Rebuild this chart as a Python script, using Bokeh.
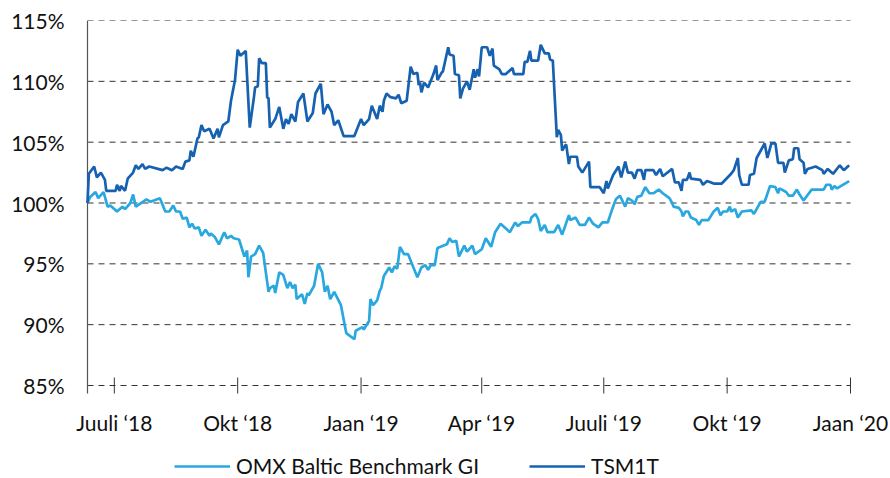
import math
import pandas as pd
from bokeh.plotting import figure
from bokeh.models import Range1d, FixedTicker, Legend, LegendItem, PrintfTickFormatter
from bokeh.core.properties import value
from bokeh.embed import file_html
from bokeh.resources import INLINE

# ---------------- data ----------------
tsm_dates = [
    "2018-06-11", "2018-06-12", "2018-06-16", "2018-06-18", "2018-06-21", "2018-06-24", "2018-06-25",
    "2018-07-02", "2018-07-03", "2018-07-05", "2018-07-06", "2018-07-09", "2018-07-11", "2018-07-15", "2018-07-17", "2018-07-19", "2018-07-22", "2018-07-24", "2018-07-27",
    "2018-08-06", "2018-08-09", "2018-08-13", "2018-08-16", "2018-08-21", "2018-08-23", "2018-08-26", "2018-08-27", "2018-08-29",
    "2018-09-01", "2018-09-02", "2018-09-04", "2018-09-06", "2018-09-10", "2018-09-13", "2018-09-16", "2018-09-17", "2018-09-20", "2018-09-24", "2018-09-26", "2018-09-29",
    "2018-10-01", "2018-10-03", "2018-10-07", "2018-10-10", "2018-10-13", "2018-10-14", "2018-10-16", "2018-10-17", "2018-10-19", "2018-10-22", "2018-10-23", "2018-10-24", "2018-10-25", "2018-10-29",
    "2018-11-01", "2018-11-04", "2018-11-06", "2018-11-08", "2018-11-10", "2018-11-13", "2018-11-15", "2018-11-19", "2018-11-22", "2018-11-26", "2018-11-28",
    "2018-12-02", "2018-12-04", "2018-12-07", "2018-12-10", "2018-12-12", "2018-12-15", "2018-12-19", "2018-12-27",
    "2019-01-01", "2019-01-03", "2019-01-07", "2019-01-09", "2019-01-13", "2019-01-15", "2019-01-17", "2019-01-18", "2019-01-20", "2019-01-23", "2019-01-27", "2019-01-29", "2019-01-31",
    "2019-02-04", "2019-02-07", "2019-02-09", "2019-02-12", "2019-02-13", "2019-02-14", "2019-02-15", "2019-02-17", "2019-02-20", "2019-02-24", "2019-02-26", "2019-02-27",
    "2019-03-02", "2019-03-03", "2019-03-04", "2019-03-07", "2019-03-08", "2019-03-11", "2019-03-12", "2019-03-15", "2019-03-16", "2019-03-18", "2019-03-21", "2019-03-23", "2019-03-26", "2019-03-27", "2019-03-29", "2019-03-30",
    "2019-04-01", "2019-04-05", "2019-04-07", "2019-04-09", "2019-04-10", "2019-04-14", "2019-04-16", "2019-04-19", "2019-04-24", "2019-04-25",
    "2019-05-02", "2019-05-03", "2019-05-05", "2019-05-07", "2019-05-08", "2019-05-13", "2019-05-15", "2019-05-18", "2019-05-21", "2019-05-22", "2019-05-24", "2019-05-27", "2019-05-28", "2019-05-30", "2019-05-31",
    "2019-06-02", "2019-06-03", "2019-06-05", "2019-06-06", "2019-06-11", "2019-06-12", "2019-06-15", "2019-06-20", "2019-06-21", "2019-06-28",
    "2019-07-01", "2019-07-03", "2019-07-04", "2019-07-08", "2019-07-12", "2019-07-14", "2019-07-17", "2019-07-19", "2019-07-22", "2019-07-24", "2019-07-26", "2019-07-29", "2019-07-31",
    "2019-08-01", "2019-08-07", "2019-08-09", "2019-08-12", "2019-08-14", "2019-08-21", "2019-08-23", "2019-08-26", "2019-08-28", "2019-08-29",
    "2019-09-01", "2019-09-03", "2019-09-04", "2019-09-11", "2019-09-13", "2019-09-16", "2019-09-21", "2019-09-27",
    "2019-10-04", "2019-10-06", "2019-10-09", "2019-10-10", "2019-10-12", "2019-10-17", "2019-10-18", "2019-10-21", "2019-10-23", "2019-10-29", "2019-10-31",
    "2019-11-03", "2019-11-06", "2019-11-08", "2019-11-12", "2019-11-13", "2019-11-16", "2019-11-19", "2019-11-20", "2019-11-23", "2019-11-24", "2019-11-27", "2019-11-28", "2019-11-30",
    "2019-12-06", "2019-12-11", "2019-12-12", "2019-12-15", "2019-12-19", "2019-12-24", "2019-12-27", "2019-12-31",
]
tsm_values = [
    100.0, 102.4, 103.0, 102.1, 102.5, 101.9, 101.0,
    101.0, 101.5, 101.0, 101.4, 101.0, 102.0, 102.5, 103.1, 102.8, 103.2, 102.8, 103.0,
    102.7, 102.9, 102.7, 103.0, 102.8, 103.4, 103.5, 104.3, 103.8,
    105.3, 105.4, 106.4, 105.9, 106.1, 105.3, 106.1, 105.4, 106.4, 106.7, 108.4, 110.1,
    112.6, 112.1, 112.5, 106.2, 108.6, 109.5, 109.6, 111.9, 111.5, 111.5, 108.7, 108.6, 106.2, 106.9,
    107.9, 106.1, 106.9, 106.5, 107.3, 106.7, 108.3, 109.0, 106.7, 107.4, 109.0,
    109.8, 107.3, 108.1, 107.5, 106.4, 106.8, 105.5, 105.5,
    106.9, 106.4, 106.9, 108.0, 106.9, 108.0, 107.5, 108.4, 109.0, 108.7, 108.6, 108.9, 108.2,
    108.4, 111.2, 110.6, 110.7, 109.7, 109.9, 109.1, 109.9, 109.5, 110.6, 111.3, 110.1,
    110.7, 110.8, 111.3, 112.8, 112.2, 112.1, 110.6, 110.5, 108.6, 109.4, 110.0, 109.3, 111.0, 110.3, 111.0, 110.4,
    112.8, 112.8, 112.1, 112.7, 111.3, 111.0, 110.6, 110.6, 111.1, 110.6,
    110.6, 111.6, 111.6, 112.5, 111.7, 111.7, 113.0, 112.3, 112.3, 111.8, 111.7, 105.4, 106.0, 105.6, 104.3,
    104.7, 104.8, 103.2, 103.8, 103.8, 103.0, 102.5, 103.4, 101.3, 101.3,
    100.8, 101.8, 101.2, 102.3, 103.0, 102.1, 103.4, 102.5, 102.5, 102.0, 102.7, 102.7, 101.9,
    102.7, 102.7, 102.3, 102.8, 102.2, 102.8, 101.7, 101.7, 101.0, 101.9,
    101.9, 102.5, 102.0, 101.9, 101.5, 101.8, 101.6, 101.6,
    102.4, 102.7, 103.7, 102.3, 101.5, 101.5, 102.3, 102.4, 103.7, 104.9, 103.7,
    104.9, 104.9, 103.3, 103.3, 102.5, 103.5, 103.6, 104.5, 104.5, 103.6, 103.3, 102.4, 102.8,
    103.0, 102.7, 102.4, 102.8, 102.4, 103.1, 102.7, 103.1,
]

omx_dates = [
    "2018-06-11", "2018-06-13", "2018-06-17", "2018-06-19", "2018-06-23", "2018-06-26", "2018-06-28",
    "2018-07-03", "2018-07-07", "2018-07-09", "2018-07-13", "2018-07-15", "2018-07-17", "2018-07-25", "2018-07-28",
    "2018-08-04", "2018-08-08", "2018-08-11", "2018-08-14", "2018-08-16", "2018-08-19", "2018-08-21", "2018-08-24", "2018-08-26", "2018-08-28", "2018-08-30",
    "2018-09-02", "2018-09-04", "2018-09-07", "2018-09-10", "2018-09-11", "2018-09-14", "2018-09-17", "2018-09-21", "2018-09-23", "2018-09-26", "2018-09-28",
    "2018-10-02", "2018-10-06", "2018-10-08", "2018-10-09", "2018-10-11", "2018-10-14", "2018-10-17", "2018-10-20", "2018-10-24", "2018-10-25", "2018-10-28", "2018-10-29",
    "2018-11-01", "2018-11-04", "2018-11-07", "2018-11-09", "2018-11-11", "2018-11-13", "2018-11-14", "2018-11-18", "2018-11-20", "2018-11-22", "2018-11-23", "2018-11-27", "2018-11-30",
    "2018-12-03", "2018-12-05", "2018-12-07", "2018-12-09", "2018-12-12", "2018-12-17", "2018-12-21", "2018-12-27", "2018-12-28",
    "2019-01-02", "2019-01-03", "2019-01-07", "2019-01-08", "2019-01-10", "2019-01-13", "2019-01-15", "2019-01-16", "2019-01-18", "2019-01-22", "2019-01-24", "2019-01-26", "2019-01-28", "2019-01-30",
    "2019-02-02", "2019-02-05", "2019-02-12", "2019-02-15", "2019-02-18", "2019-02-20", "2019-02-22", "2019-02-25", "2019-02-27",
    "2019-03-06", "2019-03-08", "2019-03-10", "2019-03-13", "2019-03-15", "2019-03-19", "2019-03-21", "2019-03-25", "2019-03-27",
    "2019-04-01", "2019-04-04", "2019-04-08", "2019-04-11", "2019-04-15", "2019-04-19", "2019-04-22", "2019-04-26", "2019-04-28",
    "2019-05-01", "2019-05-07", "2019-05-08", "2019-05-11", "2019-05-13", "2019-05-15", "2019-05-18", "2019-05-20", "2019-05-25", "2019-05-28", "2019-05-31",
    "2019-06-05", "2019-06-06", "2019-06-10", "2019-06-13", "2019-06-17", "2019-06-20", "2019-06-23", "2019-06-27", "2019-06-30",
    "2019-07-04", "2019-07-07", "2019-07-10", "2019-07-13", "2019-07-17", "2019-07-19", "2019-07-22", "2019-07-24", "2019-07-26", "2019-07-29",
    "2019-08-01", "2019-08-04", "2019-08-07", "2019-08-11", "2019-08-14", "2019-08-19", "2019-08-21", "2019-08-22", "2019-08-26", "2019-08-28", "2019-08-29", "2019-08-31",
    "2019-09-02", "2019-09-04", "2019-09-08", "2019-09-10", "2019-09-12", "2019-09-17", "2019-09-21", "2019-09-24", "2019-09-26", "2019-09-28",
    "2019-10-01", "2019-10-03", "2019-10-04", "2019-10-07", "2019-10-09", "2019-10-12", "2019-10-19", "2019-10-21", "2019-10-26", "2019-10-29",
    "2019-11-02", "2019-11-06", "2019-11-08", "2019-11-09", "2019-11-14", "2019-11-16", "2019-11-19", "2019-11-22", "2019-11-24", "2019-11-27",
    "2019-12-01", "2019-12-03", "2019-12-12", "2019-12-14", "2019-12-17", "2019-12-18", "2019-12-20", "2019-12-22", "2019-12-25", "2019-12-31",
]
omx_values = [
    100.0, 100.5, 100.9, 100.4, 100.9, 99.7, 99.8,
    99.3, 99.7, 99.5, 100.0, 100.7, 99.7, 100.3, 100.1,
    100.4, 99.3, 99.3, 99.8, 99.3, 99.3, 98.7, 98.8, 98.0, 98.3, 97.9,
    98.0, 97.3, 97.8, 97.3, 97.5, 97.2, 96.6, 97.6, 97.1, 97.3, 97.1,
    97.0, 95.6, 96.1, 93.9, 95.6, 95.8, 96.5, 95.9, 92.7, 93.0, 93.2, 92.6,
    94.3, 94.1, 93.0, 93.5, 93.0, 93.3, 92.1, 92.5, 91.7, 92.6, 92.4, 93.2, 95.0,
    94.3, 92.7, 93.2, 92.1, 92.7, 91.6, 89.3, 88.8, 89.5,
    89.8, 89.6, 90.3, 92.1, 91.6, 92.0, 92.8, 93.0, 94.0, 94.7, 94.3, 94.8, 94.6, 96.4,
    95.8, 95.8, 93.9, 94.7, 94.9, 94.5, 94.9, 94.9, 96.3,
    96.6, 97.1, 96.8, 96.9, 95.6, 96.5, 96.0, 96.5, 95.8,
    96.2, 97.1, 96.4, 97.6, 98.3, 97.9, 97.6, 98.4, 98.1,
    98.4, 98.4, 98.8, 99.1, 98.7, 97.7, 98.2, 97.6, 97.6, 98.2, 97.4,
    99.0, 98.6, 98.8, 98.2, 98.2, 98.8, 98.3, 98.0, 98.4,
    98.4, 99.4, 100.3, 100.6, 99.7, 100.4, 100.2, 99.9, 100.5, 100.6,
    101.3, 100.8, 100.8, 101.1, 100.8, 100.4, 100.0, 99.7, 99.6, 99.3, 98.9, 99.3,
    99.3, 98.8, 98.6, 98.2, 98.6, 98.6, 99.3, 99.6, 99.0, 99.3,
    99.3, 99.7, 99.3, 99.5, 98.8, 99.3, 99.4, 99.1, 100.1, 100.1,
    101.4, 101.3, 100.8, 101.2, 100.9, 100.6, 100.6, 101.1, 100.7, 100.2,
    100.8, 101.1, 101.1, 101.5, 101.5, 101.1, 101.4, 101.2, 101.4, 101.8,
]

series_names = ["OMX Baltic Benchmark GI", "TSM1T"]
x_start, x_end = "2018-06-11", "2020-01-01"
tick_dates = ["2018-07-01", "2018-10-01", "2019-01-01", "2019-04-01", "2019-07-01", "2019-10-01", "2020-01-01"]
tick_labels = ["Juuli \u201818", "Okt \u201818", "Jaan \u201819", "Apr \u201819", "Juuli \u201819", "Okt \u201819", "Jaan \u201820"]
y_ticks = [85, 90, 95, 100, 105, 110, 115]

assert len(tsm_dates) == len(tsm_values)
assert len(omx_dates) == len(omx_values)


def ms(d):
    return pd.Timestamp(d).value // 10**6


# ---------------- layout / style ----------------
W, H = 890, 478
DATA_LEFT, TOP = 87, 20       # pixel position of the data area's top-left corner
FRAME_LEFT = 66               # frame starts a little left of the data area (room for first x label)
PLOT_W, PLOT_H = 763, 365     # pixel size of the data area (x_start..x_end, 85..115)
FONT = "Lato"
C_OMX = "#29A8E0"
C_TSM = "#1762B0"
C_GRID = "#333333"
TXT = "#111111"

x0, x1 = ms(x_start), ms(x_end)
y0, y1 = y_ticks[0], y_ticks[-1]
# the frame is extended around the data area so that the tick labels and
# the legend (drawn inside the frame) are not clipped
x_px = (x1 - x0) / PLOT_W
y_px = (y1 - y0) / PLOT_H
xr = Range1d(x0 - (DATA_LEFT - FRAME_LEFT) * x_px, x1 + (W - DATA_LEFT - PLOT_W) * x_px)
yr = Range1d(y0 - (H - TOP - PLOT_H) * y_px, y1)

p = figure(
    width=W, height=H, output_backend="svg", toolbar_location=None,
    x_range=xr, y_range=yr,
    min_border_left=FRAME_LEFT, min_border_right=0, min_border_top=TOP, min_border_bottom=0,
)
p.outline_line_color = None
p.background_fill_color = "white"
p.border_fill_color = "white"
p.xaxis.visible = False
p.xgrid.grid_line_color = None
p.ygrid.grid_line_color = None

# dashed horizontal grid lines across the data area
p.multi_line(xs=[[x0, x1] for _ in y_ticks], ys=[[v, v] for v in y_ticks],
             line_color=C_GRID, line_width=1, line_dash="6 5")

# y axis line (across the data area, reaching slightly below the 85% line)
p.segment(x0=[x0], y0=[y0 - 8 * y_px], x1=[x0], y1=[y1], line_color="#555555", line_width=1.2)

# series
r_omx = p.line([ms(d) for d in omx_dates], omx_values, line_color=C_OMX, line_width=2.7)
r_tsm = p.line([ms(d) for d in tsm_dates], tsm_values, line_color=C_TSM, line_width=2.7)

# x ticks (short vertical marks crossing the 85% line) and their labels
tick_ms = [ms(d) for d in tick_dates]
p.scatter(x=tick_ms, y=[y0] * len(tick_ms), marker="dash", size=16, angle=math.pi / 2,
          line_color=C_GRID, line_width=1)
p.text(x=tick_ms, y=[y0] * len(tick_ms), text=tick_labels, y_offset=24,
       text_align="center", text_baseline="top",
       text_font=value(FONT), text_font_size="21px", text_color=TXT)

# y axis labels (right edge about 23px left of the data area)
p.yaxis.ticker = FixedTicker(ticks=y_ticks)
p.yaxis.formatter = PrintfTickFormatter(format="%d%%")
p.yaxis.axis_line_color = None
p.yaxis.major_tick_in = 0
p.yaxis.major_tick_out = 0
p.yaxis.minor_tick_line_color = None
p.yaxis.major_label_standoff = 2
p.yaxis.major_label_text_font = FONT
p.yaxis.major_label_text_font_size = "21px"
p.yaxis.major_label_text_color = TXT

legend = Legend(
    items=[LegendItem(label=series_names[0], renderers=[r_omx]),
           LegendItem(label=series_names[1], renderers=[r_tsm])],
    orientation="horizontal", location=(174 - FRAME_LEFT, 0),
    glyph_width=56, glyph_height=20, label_standoff=6, spacing=50,
    padding=0, margin=0, border_line_color=None, background_fill_alpha=0,
    label_text_font=FONT, label_text_font_size="21px", label_text_color=TXT,
)
p.add_layout(legend, "center")

open("out.html", "w").write(file_html(p, INLINE))
